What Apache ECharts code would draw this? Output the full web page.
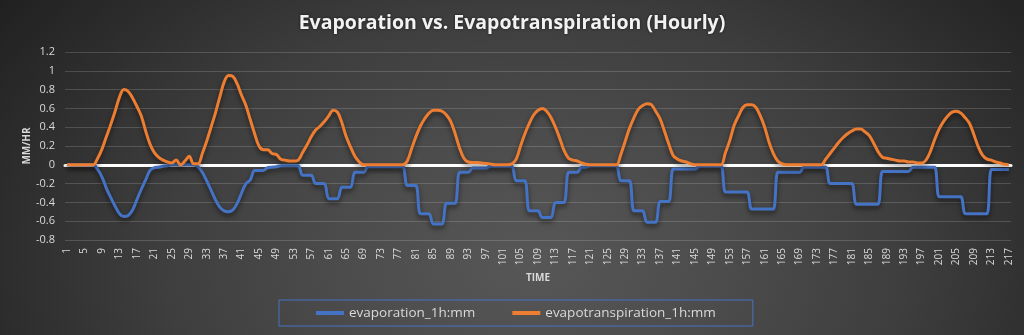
<!DOCTYPE html>
<html>
<head>
<meta charset="utf-8">
<script src="https://cdn.jsdelivr.net/npm/echarts@6/dist/echarts.min.js"></script>
<style>
html,body{margin:0;padding:0;}
body{width:1024px;height:335px;overflow:hidden;
background:radial-gradient(ellipse 66% 135% at 52% 78%, #575757 0%, #4c4c4c 28%, #3e3e3e 55%, #2c2c2c 80%, #1f1f1f 100%);}
#chart{width:1024px;height:335px;}
</style>
</head>
<body>
<div id="chart"></div>
<script>
const categories = [
1,2,3,4,5,6,7,8,9,10,11,12,13,14,15,16,17,18,19,20,
21,22,23,24,25,26,27,28,29,30,31,32,33,34,35,36,37,38,39,40,
41,42,43,44,45,46,47,48,49,50,51,52,53,54,55,56,57,58,59,60,
61,62,63,64,65,66,67,68,69,70,71,72,73,74,75,76,77,78,79,80,
81,82,83,84,85,86,87,88,89,90,91,92,93,94,95,96,97,98,99,100,
101,102,103,104,105,106,107,108,109,110,111,112,113,114,115,116,117,118,119,120,
121,122,123,124,125,126,127,128,129,130,131,132,133,134,135,136,137,138,139,140,
141,142,143,144,145,146,147,148,149,150,151,152,153,154,155,156,157,158,159,160,
161,162,163,164,165,166,167,168,169,170,171,172,173,174,175,176,177,178,179,180,
181,182,183,184,185,186,187,188,189,190,191,192,193,194,195,196,197,198,199,200,
201,202,203,204,205,206,207,208,209,210,211,212,213,214,215,216,217
];

const evaporation = [
0,0,0,0,0,0,0,-0.05,-0.13,-0.25,
-0.35,-0.44,-0.52,-0.55,-0.54,-0.48,-0.37,-0.26,-0.16,-0.06,
-0.03,-0.025,-0.015,-0.01,0,0,0,0,0,0,
-0.02,-0.08,-0.17,-0.27,-0.37,-0.45,-0.49,-0.50,-0.48,-0.41,
-0.30,-0.20,-0.16,-0.06,-0.06,-0.06,-0.03,-0.025,-0.02,-0.01,
-0.01,-0.01,-0.01,-0.01,-0.11,-0.11,-0.11,-0.20,-0.20,-0.20,
-0.36,-0.36,-0.36,-0.24,-0.24,-0.24,-0.08,-0.08,-0.08,-0.02,
-0.02,-0.02,-0.02,-0.02,-0.02,-0.02,-0.02,-0.02,-0.22,-0.22,
-0.22,-0.52,-0.52,-0.52,-0.63,-0.63,-0.63,-0.41,-0.41,-0.41,
-0.08,-0.08,-0.08,-0.035,-0.035,-0.035,-0.035,-0.015,-0.015,-0.015,
-0.015,-0.015,-0.015,-0.17,-0.17,-0.17,-0.49,-0.49,-0.49,-0.56,
-0.56,-0.56,-0.40,-0.40,-0.40,-0.08,-0.08,-0.08,-0.025,-0.025,
-0.01,-0.01,-0.01,-0.01,-0.01,-0.01,-0.01,-0.17,-0.17,-0.17,
-0.49,-0.49,-0.49,-0.61,-0.61,-0.61,-0.39,-0.39,-0.39,-0.045,
-0.045,-0.045,-0.045,-0.045,-0.045,-0.015,-0.015,-0.015,-0.015,-0.015,
-0.015,-0.29,-0.29,-0.29,-0.29,-0.29,-0.29,-0.47,-0.47,-0.47,
-0.47,-0.47,-0.47,-0.08,-0.08,-0.08,-0.08,-0.08,-0.08,-0.025,
-0.025,-0.025,-0.025,-0.025,-0.025,-0.20,-0.20,-0.20,-0.20,-0.20,
-0.20,-0.42,-0.42,-0.42,-0.42,-0.42,-0.42,-0.07,-0.07,-0.07,
-0.07,-0.07,-0.07,-0.07,-0.025,-0.025,-0.025,-0.025,-0.025,-0.025,
-0.34,-0.34,-0.34,-0.34,-0.34,-0.34,-0.52,-0.52,-0.52,-0.52,
-0.52,-0.52,-0.05,-0.05,-0.05,-0.05,-0.05
];

const evapotranspiration = [
0,0,0,0,0,0,0,0.07,0.17,0.30,
0.43,0.57,0.72,0.80,0.78,0.71,0.62,0.52,0.36,0.22,
0.13,0.08,0.05,0.03,0.02,0.05,0,0.04,0.09,0.01,
0.01,0.12,0.25,0.40,0.55,0.72,0.88,0.95,0.94,0.86,
0.74,0.63,0.48,0.33,0.20,0.16,0.16,0.12,0.11,0.06,
0.05,0.04,0.04,0.05,0.13,0.21,0.30,0.37,0.41,0.46,
0.52,0.58,0.56,0.45,0.30,0.19,0.09,0.03,0,0,
0,0,0,0,0,0,0,0,0.04,0.17,
0.30,0.41,0.49,0.55,0.58,0.58,0.57,0.53,0.46,0.33,
0.18,0.07,0.03,0.025,0.025,0.02,0.015,0.01,0,0,
0,0,0.01,0.06,0.20,0.33,0.44,0.53,0.58,0.60,
0.57,0.50,0.40,0.28,0.15,0.07,0.05,0.04,0.02,0.005,
0,0,0,0,0,0,0,0.11,0.25,0.39,
0.50,0.59,0.63,0.65,0.64,0.57,0.49,0.36,0.22,0.10,
0.06,0.04,0.03,0.01,0,0,0,0,0,0,
0,0.13,0.26,0.42,0.52,0.61,0.64,0.64,0.61,0.52,
0.40,0.24,0.12,0.04,0.01,0,0,0,0,0,
0,0,0,0,0.06,0.12,0.18,0.24,0.29,0.33,
0.36,0.38,0.38,0.35,0.31,0.23,0.14,0.08,0.07,0.06,
0.05,0.04,0.04,0.03,0.03,0.02,0.02,0.05,0.14,0.27,
0.38,0.46,0.52,0.56,0.57,0.55,0.50,0.44,0.32,0.19,
0.10,0.06,0.05,0.03,0.02,0.005,0
];

const seriesNames = ['evaporation_1h:mm', 'evapotranspiration_1h:mm'];
const yTicks = { min: -0.8, max: 1.2, step: 0.2 };

const FONT = '"Open Sans", "Noto Sans", sans-serif';
const LABEL = '#d9d9d9';
const chart = echarts.init(document.getElementById('chart'), null, { renderer: 'canvas' });
const lineShadow = { shadowColor: 'rgba(0,0,0,0.55)', shadowBlur: 5, shadowOffsetY: 3 };

chart.setOption({
  backgroundColor: 'transparent',
  animation: false,
  textStyle: { fontFamily: FONT },
  title: {
    text: 'Evaporation vs. Evapotranspiration (Hourly)',
    left: 'center',
    top: 8,
    textStyle: {
      color: '#f2f2f2', fontSize: 19.5, fontWeight: 'bold', fontFamily: FONT,
      textShadowColor: 'rgba(0,0,0,0.6)', textShadowBlur: 3
    }
  },
  legend: {
    data: seriesNames,
    top: 300,
    left: 279,
    icon: 'rect',
    itemWidth: 28,
    itemHeight: 4,
    itemGap: 37,
    padding: [6, 37],
    borderColor: '#4472c4',
    borderWidth: 1,
    textStyle: { color: LABEL, fontSize: 13.5, fontFamily: FONT }
  },
  grid: { left: 65, right: 13, top: 52, bottom: 95, containLabel: false },
  xAxis: [{
    type: 'category',
    data: categories,
    boundaryGap: true,
    name: 'TIME',
    nameLocation: 'middle',
    nameGap: 33,
    nameMoveOverlap: false,
    nameTextStyle: { color: LABEL, fontSize: 10, fontWeight: 'bold', fontFamily: FONT },
    axisLine: { show: false, onZero: false },
    axisTick: { show: false },
    axisLabel: { interval: 3, rotate: 90, color: LABEL, fontSize: 10, margin: 8, fontFamily: FONT },
    splitLine: { show: false }
  }, {
    type: 'category',
    data: categories,
    position: 'bottom',
    boundaryGap: true,
    axisLine: { show: true, onZero: true, lineStyle: { color: '#ffffff', width: 3 } },
    axisTick: { show: false },
    axisLabel: { show: false },
    splitLine: { show: false }
  }],
  yAxis: {
    type: 'value',
    min: yTicks.min,
    max: yTicks.max,
    interval: yTicks.step,
    name: 'MM/HR',
    nameLocation: 'middle',
    nameRotate: 90,
    nameGap: 33,
    nameMoveOverlap: false,
    nameTextStyle: { color: LABEL, fontSize: 10, fontWeight: 'bold', fontFamily: FONT },
    axisLine: { show: false },
    axisTick: { show: false },
    axisLabel: { color: LABEL, fontSize: 11, margin: 10, fontFamily: FONT,
      formatter: v => String(+v.toFixed(1)) },
    splitLine: { lineStyle: { color: 'rgba(255,255,255,0.16)', width: 1 } }
  },
  series: [{
    name: seriesNames[0],
    type: 'line',
    data: evaporation,
    showSymbol: false,
    smooth: 0.35,
    z: 3,
    color: '#4472c4',
    lineStyle: Object.assign({ width: 3, color: '#4472c4' }, lineShadow)
  }, {
    name: seriesNames[1],
    type: 'line',
    data: evapotranspiration,
    showSymbol: false,
    smooth: 0.35,
    z: 4,
    color: '#ed7d31',
    lineStyle: Object.assign({ width: 3, color: '#ed7d31' }, lineShadow)
  }]
});
</script>
</body>
</html>
